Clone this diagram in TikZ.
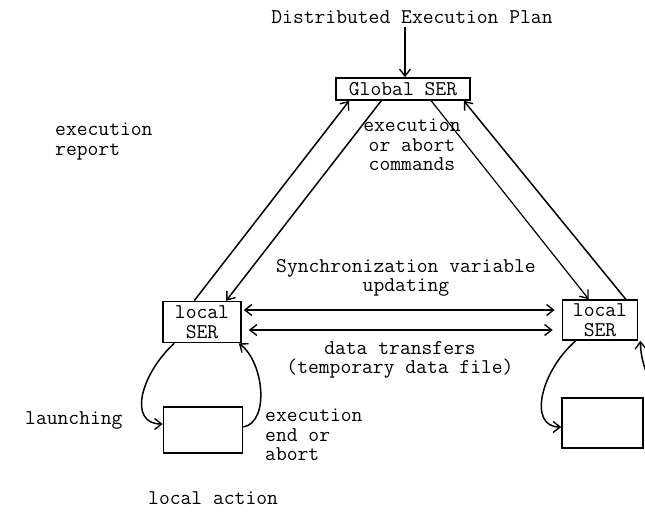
\documentclass[tikz,border=0pt]{standalone}
\usepackage{fontspec}
\usetikzlibrary{arrows.meta,calc}
\begin{document}
\begin{tikzpicture}[x=1pt,y=-1pt,
  every node/.style={font=\fontsize{21}{19.5}\selectfont\ttfamily},
  serbox/.style={draw,line width=1.6pt,inner sep=0pt,align=center},
  link/.style={line width=1.5pt,-{Straight Barb[length=7pt,width=11pt,line width=1.4pt]}},
  both/.style={line width=1.5pt,{Straight Barb[length=7pt,width=11pt,line width=1.4pt]}-{Straight Barb[length=7pt,width=11pt,line width=1.4pt]}},
  lbl/.style={align=left,anchor=north west,inner sep=0pt},
  clbl/.style={align=center,anchor=north,inner sep=0pt}]
\useasboundingbox[fill=white] (0,0) rectangle (645,514);

% boxes
\node[serbox,minimum width=134pt,minimum height=22pt] (gs) at (403,89) {Global SER};
\node[serbox,minimum width=78pt,minimum height=41pt] (ls) at (202,322) {local\\SER};
\node[serbox,minimum width=75pt,minimum height=40pt] (rs) at (600,320) {local\\SER};
\node[serbox,minimum width=79pt,minimum height=46pt] (la) at (203,430) {};
\node[serbox,minimum width=81pt,minimum height=50pt] (ra) at (602.5,423) {};

% texts
\node[inner sep=0pt] (title) at (412,17) {Distributed Execution Plan};
\node[lbl] (rep) at (55,123) {execution\\report};
\node[clbl] (cmd) at (412,119) {execution\\or abort\\commands};
\node[clbl] (sync) at (406,259) {Synchronization variable\\updating};
\node[clbl] (data) at (400,341) {data transfers\\(temporary data file)};
\node[lbl] (lau) at (25,411) {launching};
\node[lbl] (eoa) at (265,409) {execution\\end or\\abort};
\node[lbl] (act) at (148,491) {local action};

% plan into the global SER
\draw[link,line width=1.2pt] ($(title.south)+(-7,3)$) -- ($(gs.north)+(2,0)$);

% global <-> local SERs
\draw[link] ($(ls.north west)+(32,0)$) -- ($(gs.south west)+(14,0)$);
\draw[link] ($(gs.south west)+(46,0)$) -- ($(ls.north west)+(64,0)$);
\draw[link,line width=1.2pt] ($(gs.south west)+(96,0)$) -- ($(rs.north west)+(27,0)$);
\draw[link] ($(rs.north west)+(64,0)$) -- ($(gs.south east)+(-7,0)$);

% exchanges between local SERs
\draw[both] ($(ls.east)+(2,-12)$) -- ($(rs.west)+(-7,-10)$);
\draw[both] ($(ls.east)+(7,8)$) -- ($(rs.west)+(-9,10)$);

% local action loops
\draw[link] ($(ls.south west)+(12,0)$) .. controls (140,375) and (128,424) .. ($(la.west)+(0,-6)$);
\draw[link] ($(la.east)+(0,-3)$) .. controls (270,422) and (264,362) .. ($(ls.south east)+(-3,0)$);
\draw[link] ($(rs.south west)+(14,0)$) .. controls (540,372) and (528,427) .. ($(ra.west)+(0,4)$);
\coordinate (rret) at (652,385);
\draw[link] (rret) .. controls (645,370) and (641,360) .. ($(rs.south east)+(2,0)$);
\end{tikzpicture}
\end{document}
